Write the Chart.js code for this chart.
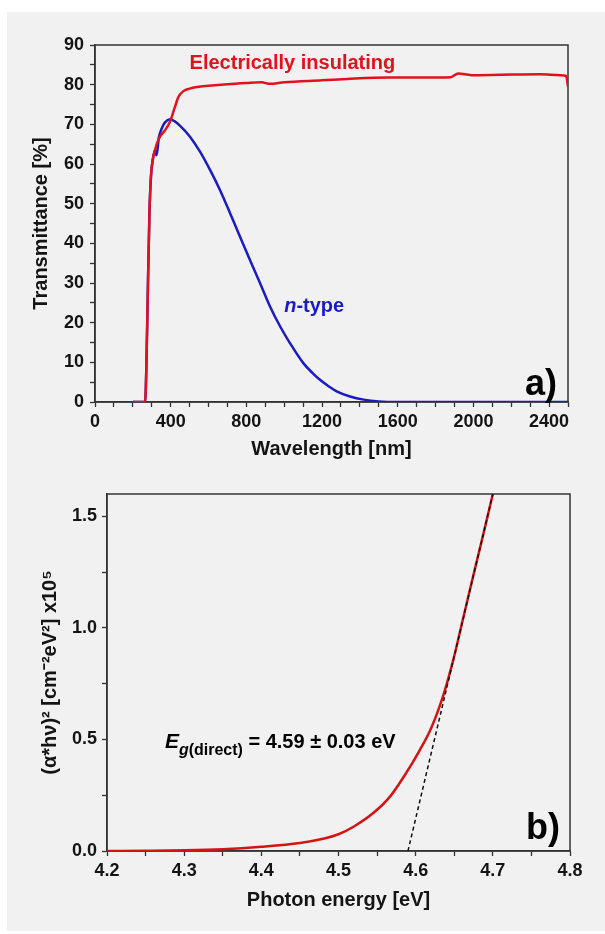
<!DOCTYPE html>
<html>
<head>
<meta charset="utf-8">
<script src="https://cdn.jsdelivr.net/npm/chart.js@4"></script>
<style>
  body { margin: 0; background: #fff; }
  #panel { position: absolute; left: 7px; top: 12px; width: 598px; height: 919px; background: #f1f1f1; }
  canvas { position: absolute; left: 0; }
  #topChart { top: 0; width: 605px; height: 470px; }
  #bottomChart { top: 470px; width: 605px; height: 464px; }
</style>
</head>
<body>
<div id="panel"></div>
<canvas id="topChart" width="605" height="470"></canvas>
<canvas id="bottomChart" width="605" height="464"></canvas>
<script>
// a) transmittance spectra
const wavelengthIns = [200, 265, 272, 280, 288, 296, 305, 317, 330, 345, 370, 395, 420, 440, 465, 500, 540, 600, 700, 800, 880, 925, 1000, 1200, 1350, 1550, 1750, 1880, 1920, 1990, 2150, 2350, 2460, 2490, 2500];
const transIns = [0, 0, 10, 30, 48, 57, 61, 63.5, 65.5, 67, 68.5, 70.5, 74, 76.8, 78.3, 79, 79.4, 79.7, 80.1, 80.4, 80.6, 80.2, 80.6, 81.1, 81.5, 81.8, 81.8, 81.9, 82.8, 82.4, 82.5, 82.6, 82.4, 82.2, 79.5];

const wavelengthN = [200, 265, 272, 280, 288, 296, 305, 317, 325, 338, 352, 370, 396, 420, 450, 500, 555, 608, 661, 714, 766, 819, 872, 925, 978, 1031, 1101, 1150, 1189, 1240, 1277, 1348, 1420, 1500, 1600, 2500];
const transN = [0, 0, 10, 30, 48, 57, 61, 63.5, 62.2, 66.8, 68.9, 70.5, 71.3, 70.8, 69.6, 67, 63.1, 58.5, 53.4, 47.6, 41.7, 35.8, 30, 24.1, 19.1, 14.8, 9.8, 7.3, 5.6, 3.8, 2.7, 1.4, 0.6, 0.15, 0, 0];

// b) Tauc plot
const photonEnergy = [4.2, 4.25, 4.3, 4.35, 4.4, 4.45, 4.48, 4.5, 4.52, 4.545, 4.567, 4.585, 4.605, 4.62, 4.636, 4.649, 4.662, 4.674, 4.687, 4.7];
const taucValue = [0, 0.001, 0.003, 0.008, 0.019, 0.036, 0.055, 0.075, 0.11, 0.17, 0.245, 0.335, 0.45, 0.55, 0.7, 0.86, 1.05, 1.225, 1.41, 1.6];
const fitEnergy = [4.59, 4.7];
const fitValue = [0, 1.6];

// tick labels
const wavelengthTicks = [0, 400, 800, 1200, 1600, 2000, 2400];
const transTicks = [0, 10, 20, 30, 40, 50, 60, 70, 80, 90];
const energyTicks = [4.2, 4.3, 4.4, 4.5, 4.6, 4.7, 4.8];
const taucTicks = [0, 0.5, 1.0, 1.5];

const FONT = "'Liberation Sans', Arial, sans-serif";
const AXIS = "#333";
const TEXT = "#141414";

function pts(xs, ys) {
  return xs.map((x, i) => ({ x: x, y: ys[i] }));
}

function stepTicks(min, max, step) {
  const out = [];
  const n = Math.round((max - min) / step);
  for (let i = 0; i <= n; i++) out.push(+(min + i * step).toFixed(4));
  return out;
}

function isMajor(v, majors) {
  return majors.some(m => Math.abs(m - v) < 1e-6);
}

function axis(o) {
  return {
    type: "linear",
    min: o.min,
    max: o.max,
    afterBuildTicks: s => { s.ticks = stepTicks(o.min, o.tickMax, o.step).map(v => ({ value: v })); },
    afterFit: s => { if (o.height) s.height = o.height; if (o.width) s.width = o.width; },
    grid: { drawOnChartArea: false, drawTicks: true, tickLength: 5, tickColor: AXIS, tickWidth: 1.3 },
    border: { display: true, color: AXIS, width: 1.5 },
    ticks: {
      autoSkip: false,
      maxRotation: 0,
      padding: o.tickPad,
      color: TEXT,
      font: { family: FONT, size: 18, weight: "bold" },
      callback: v => isMajor(v, o.majors) ? o.fmt(v) : ""
    },
    title: {
      display: true,
      text: o.title,
      color: TEXT,
      font: { family: FONT, size: 20, weight: "bold" },
      padding: o.titlePad
    }
  };
}

const frameBox = {
  id: "frameBox",
  beforeDatasetsDraw(chart) {
    const { ctx, chartArea: a } = chart;
    ctx.save();
    ctx.strokeStyle = AXIS;
    ctx.lineWidth = 1.5;
    ctx.strokeRect(a.left, a.top, a.right - a.left, a.bottom - a.top);
    ctx.restore();
  }
};

function lineSet(data, color, width) {
  return {
    data: data,
    borderColor: color,
    borderWidth: width,
    pointRadius: 0,
    fill: false,
    cubicInterpolationMode: "monotone"
  };
}

// top chart labels
const topLabels = {
  id: "topLabels",
  afterDatasetsDraw(chart) {
    const { ctx, scales: { x, y } } = chart;
    ctx.save();
    ctx.textBaseline = "middle";
    ctx.textAlign = "left";
    ctx.fillStyle = "#e0121c";
    ctx.font = "bold 20px " + FONT;
    ctx.fillText("Electrically insulating", x.getPixelForValue(500), y.getPixelForValue(85.4));

    const nx = x.getPixelForValue(1000), ny = y.getPixelForValue(24);
    ctx.fillStyle = "#1b1bc4";
    ctx.font = "italic bold 20px " + FONT;
    ctx.fillText("n", nx, ny);
    const w = ctx.measureText("n").width;
    ctx.font = "bold 20px " + FONT;
    ctx.fillText("-type", nx + w, ny);

    ctx.fillStyle = "#000";
    ctx.font = "bold 36px " + FONT;
    ctx.textAlign = "right";
    ctx.textBaseline = "alphabetic";
    ctx.fillText("a)", x.getPixelForValue(2442), y.getPixelForValue(1.76));
    ctx.restore();
  }
};

// bottom chart labels
const bottomLabels = {
  id: "bottomLabels",
  afterDatasetsDraw(chart) {
    const { ctx, scales: { x, y } } = chart;
    ctx.save();
    ctx.fillStyle = "#000";
    ctx.textBaseline = "alphabetic";
    ctx.textAlign = "left";
    let px = x.getPixelForValue(4.275);
    const py = y.getPixelForValue(0.46);
    ctx.font = "italic bold 21px " + FONT;
    ctx.fillText("E", px, py);
    px += ctx.measureText("E").width;
    ctx.font = "italic bold 16px " + FONT;
    ctx.fillText("g", px, py + 7);
    px += ctx.measureText("g").width;
    ctx.font = "bold 16px " + FONT;
    ctx.fillText("(direct)", px, py + 7);
    px += ctx.measureText("(direct)").width;
    ctx.font = "bold 20px " + FONT;
    ctx.fillText(" = 4.59 \u00b1 0.03 eV", px, py);

    ctx.font = "bold 36px " + FONT;
    ctx.textAlign = "right";
    ctx.fillText("b)", x.getPixelForValue(4.787), y.getPixelForValue(0.053));
    ctx.restore();
  }
};

new Chart(document.getElementById("topChart"), {
  type: "line",
  data: {
    datasets: [
      lineSet(pts(wavelengthIns, transIns), "#e0121c", 2.5),
      lineSet(pts(wavelengthN, transN), "#1b1bc4", 2.5)
    ]
  },
  options: {
    responsive: false,
    animation: false,
    layout: { padding: { left: 20, right: 37, top: 45, bottom: 0 } },
    plugins: { legend: { display: false }, tooltip: { enabled: false } },
    scales: {
      x: axis({ min: 0, max: 2500, tickMax: 2500, step: 100, majors: wavelengthTicks, fmt: v => String(v),
        title: "Wavelength [nm]", height: 68, tickPad: 4, titlePad: { top: 0, bottom: 9 } }),
      y: axis({ min: 0, max: 90, tickMax: 90, step: 5, majors: transTicks, fmt: v => String(v),
        title: "Transmittance [%]", width: 75, tickPad: 6, titlePad: { top: 9, bottom: 0 } })
    }
  },
  plugins: [frameBox, topLabels]
});

// dashed fit line listed first so it is drawn over the red curve
new Chart(document.getElementById("bottomChart"), {
  type: "line",
  data: {
    datasets: [
      Object.assign(lineSet(pts(fitEnergy, fitValue), "#111", 1.5), { borderDash: [4, 3] }),
      lineSet(pts(photonEnergy, taucValue), "#d41414", 2.5)
    ]
  },
  options: {
    responsive: false,
    animation: false,
    layout: { padding: { left: 20, right: 35, top: 24, bottom: 0 } },
    plugins: { legend: { display: false }, tooltip: { enabled: false } },
    scales: {
      x: axis({ min: 4.2, max: 4.8, tickMax: 4.8, step: 0.05, majors: energyTicks, fmt: v => v.toFixed(1),
        title: "Photon energy [eV]", height: 83, tickPad: 4, titlePad: { top: 0, bottom: 22 } }),
      y: axis({ min: 0, max: 1.6, tickMax: 1.5, step: 0.25, majors: taucTicks, fmt: v => v.toFixed(1),
        title: "(\u03b1*h\u03bd)\u00b2 [cm\u207b\u00b2eV\u00b2] x10\u2075", width: 87, tickPad: 5, titlePad: { top: 18, bottom: 0 } })
    }
  },
  plugins: [frameBox, bottomLabels]
});
</script>
</body>
</html>
